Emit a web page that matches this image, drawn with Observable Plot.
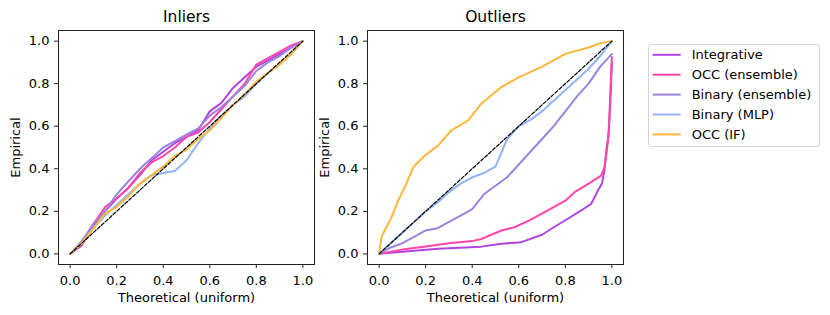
<!DOCTYPE html>
<html>
<head>
<meta charset="utf-8">
<script src="https://cdn.jsdelivr.net/npm/d3@7"></script>
<script src="https://cdn.jsdelivr.net/npm/@observablehq/plot@0.6"></script>
<style>
  html, body { margin: 0; padding: 0; background: #fff; }
  #root { position: relative; width: 830px; height: 315px; font-family: "DejaVu Sans", sans-serif; }
  #root > * { position: absolute; }
</style>
</head>
<body>
<div id="root"></div>
<script>
// ---- data ----
const seriesNames = ["Integrative", "OCC (ensemble)", "Binary (ensemble)", "Binary (MLP)", "OCC (IF)"];
const seriesColors = ["#b044e0", "#ff45aa", "#9a84e0", "#8fb5f3", "#ffb73a"];
const tickValues = [0, 0.2, 0.4, 0.6, 0.8, 1.0];
const panelTitles = ["Inliers", "Outliers"];

// Inliers: common theoretical grid
const inX = [0,0.05,0.1,0.15,0.2,0.25,0.3,0.35,0.4,0.45,0.5,0.55,0.6,0.65,0.7,0.75,0.8,0.85,0.9,0.95,1];
const inIntegrative = [0,0.04,0.13,0.2,0.26,0.31,0.37,0.44,0.48,0.52,0.55,0.58,0.67,0.71,0.78,0.83,0.88,0.91,0.94,0.97,1];
const inOccEns      = [0,0.05,0.14,0.22,0.26,0.31,0.38,0.43,0.46,0.5,0.55,0.57,0.62,0.68,0.74,0.8,0.89,0.92,0.95,0.98,1];
const inBinEns      = [0,0.06,0.14,0.2,0.28,0.34,0.4,0.45,0.5,0.53,0.56,0.59,0.65,0.69,0.74,0.79,0.86,0.9,0.93,0.97,1];
const inBinMlp      = [0,0.05,0.12,0.18,0.23,0.28,0.33,0.37,0.38,0.39,0.44,0.52,0.59,0.65,0.7,0.74,0.8,0.85,0.89,0.94,1];
const inOccIf       = [0,0.05,0.12,0.19,0.22,0.27,0.33,0.37,0.41,0.46,0.49,0.54,0.58,0.64,0.7,0.75,0.81,0.85,0.89,0.94,1];

// Outliers: per-series theoretical / empirical pairs
const outIntegrativeX = [0,0.05,0.1,0.253,0.439,0.525,0.611,0.7,0.74,0.811,0.868,0.911,0.94,0.957,0.968,0.976,0.985,0.993,1];
const outIntegrativeY = [0,0.005,0.01,0.024,0.034,0.047,0.055,0.09,0.118,0.165,0.204,0.235,0.298,0.329,0.39,0.486,0.55,0.7,0.9];
const outOccEnsX = [0,0.05,0.1,0.2,0.3,0.4,0.439,0.525,0.582,0.65,0.725,0.8,0.84,0.9,0.954,0.968,0.98,0.987,0.993,1];
const outOccEnsY = [0,0.01,0.02,0.035,0.05,0.06,0.07,0.11,0.125,0.16,0.204,0.25,0.29,0.33,0.368,0.407,0.5,0.58,0.75,0.925];
const outBinEnsX = [0,0.05,0.1,0.15,0.2,0.25,0.3,0.35,0.4,0.45,0.5,0.55,0.6,0.65,0.7,0.75,0.8,0.85,0.9,0.95,1];
const outBinEnsY = [0,0.03,0.05,0.08,0.11,0.12,0.15,0.18,0.21,0.28,0.32,0.36,0.42,0.48,0.54,0.6,0.67,0.74,0.8,0.88,0.94];
const outBinMlpX = [0,0.05,0.1,0.15,0.2,0.25,0.3,0.35,0.4,0.45,0.5,0.55,0.6,0.65,0.7,0.75,0.8,0.85,0.9,0.95,1];
const outBinMlpY = [0,0.05,0.1,0.15,0.2,0.24,0.29,0.33,0.36,0.38,0.41,0.54,0.6,0.63,0.67,0.72,0.77,0.82,0.87,0.93,1];
const outOccIfX = [0,0.01,0.024,0.053,0.082,0.117,0.146,0.196,0.253,0.31,0.382,0.439,0.525,0.6,0.7,0.8,0.9,0.95,1];
const outOccIfY = [0,0.08,0.11,0.172,0.25,0.33,0.407,0.462,0.509,0.58,0.627,0.706,0.784,0.83,0.88,0.94,0.97,0.99,1];

const diagonal = [0, 1];

// ---- build tables ----
const inSeries = [inIntegrative, inOccEns, inBinEns, inBinMlp, inOccIf];
const inRows = seriesNames.flatMap((s, i) => inX.map((x, j) => ({series: s, x, y: inSeries[i][j]})));
const outPairs = [[outIntegrativeX, outIntegrativeY], [outOccEnsX, outOccEnsY], [outBinEnsX, outBinEnsY], [outBinMlpX, outBinMlpY], [outOccIfX, outOccIfY]];
const outRows = seriesNames.flatMap((s, i) => outPairs[i][0].map((x, j) => ({series: s, x, y: outPairs[i][1][j]})));
const diagRows = diagonal.map(v => ({x: v, y: v}));

const root = document.getElementById("root");

function panel(rows, title, left, mLeft) {
  const fmt = d3.format(".1f");
  const chart = Plot.plot({
    width: mLeft + 256 + 5,
    height: 315,
    marginLeft: mLeft, marginRight: 5, marginTop: 30, marginBottom: 51,
    x: {domain: [-0.05, 1.05]},
    y: {domain: [-0.05, 1.05]},
    color: {domain: seriesNames, range: seriesColors},
    style: {fontFamily: "DejaVu Sans, sans-serif", fontSize: "13px", color: "black", background: "transparent", overflow: "visible"},
    marks: [
      Plot.line(rows, {x: "x", y: "y", z: "series", stroke: "series", strokeWidth: 2, strokeLinejoin: "round"}),
      Plot.line(diagRows, {x: "x", y: "y", stroke: "black", strokeWidth: 1.2, strokeDasharray: "3.5,1.8"}),
      Plot.frame({stroke: "#222", strokeWidth: 1}),
      Plot.axisX({ticks: tickValues, tickFormat: fmt, tickSize: 4, tickPadding: 7, label: null, stroke: "#222", fill: "black"}),
      Plot.axisY({ticks: tickValues, tickFormat: fmt, tickSize: 4, tickPadding: 5, label: null, stroke: "#222", fill: "black"}),
      Plot.text([title], {frameAnchor: "top", lineAnchor: "middle", textAnchor: "middle", dy: -13, fontSize: 15.5, fill: "black"}),
      Plot.text(["Theoretical (uniform)"], {frameAnchor: "bottom", lineAnchor: "middle", textAnchor: "middle", dy: 33.5, fontSize: 13, fill: "black"}),
      Plot.text(["Empirical"], {frameAnchor: "left", lineAnchor: "middle", textAnchor: "middle", dx: -43, rotate: -90, fontSize: 13, fill: "black"})
    ]
  });
  chart.style.left = left + "px";
  chart.style.top = "0px";
  root.appendChild(chart);
}

panel(inRows, panelTitles[0], 0, 58);
panel(outRows, panelTitles[1], 310, 57);

// ---- legend ----
const legend = d3.create("svg").attr("width", 174).attr("height", 105)
  .style("left", "647px").style("top", "43px");
legend.append("rect").attr("x", 1.5).attr("y", 1.5).attr("width", 171).attr("height", 102)
  .attr("rx", 3).attr("fill", "white").attr("stroke", "#d5d5d5").attr("stroke-width", 1);
seriesNames.forEach((s, i) => {
  const cy = 11.8 + i * 19.9;
  legend.append("line").attr("x1", 5.7).attr("x2", 33.7).attr("y1", cy).attr("y2", cy)
    .attr("stroke", seriesColors[i]).attr("stroke-width", 2);
  legend.append("text").attr("x", 44.7).attr("y", cy).attr("dy", "0.35em")
    .attr("font-family", "DejaVu Sans, sans-serif").attr("font-size", 13).attr("fill", "black").text(s);
});
root.appendChild(legend.node());
</script>
</body>
</html>
